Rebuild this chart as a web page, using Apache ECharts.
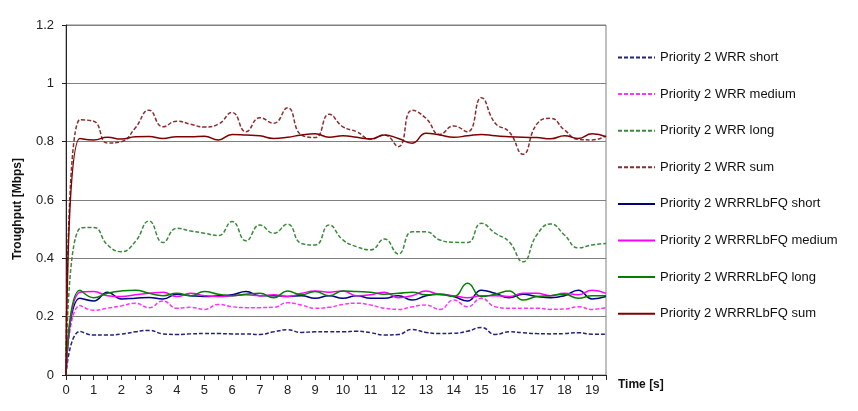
<!DOCTYPE html>
<html>
<head>
<meta charset="utf-8">
<script src="https://cdn.jsdelivr.net/npm/echarts@6/dist/echarts.min.js"></script>
<style>html,body{margin:0;padding:0;background:#fff}#c{width:858px;height:411px}</style>
</head>
<body>
<div id="c"></div>
<script>
// Time categories (s), every 0.5 s
const times = ["0","0.5","1","1.5","2","2.5","3","3.5","4","4.5","5","5.5","6","6.5","7","7.5","8","8.5","9","9.5","10","10.5","11","11.5","12","12.5","13","13.5","14","14.5","15","15.5","16","16.5","17","17.5","18","18.5","19","19.5"];
const yTicks = [0, 0.2, 0.4, 0.6, 0.8, 1, 1.2];

const wrrShort = [0,0.149,0.137,0.137,0.140,0.148,0.153,0.141,0.139,0.141,0.142,0.142,0.141,0.141,0.139,0.148,0.155,0.146,0.148,0.148,0.148,0.150,0.145,0.137,0.139,0.156,0.146,0.142,0.143,0.150,0.163,0.139,0.148,0.145,0.142,0.141,0.142,0.145,0.140,0.140];
const wrrMedium = [0,0.238,0.222,0.229,0.237,0.246,0.231,0.254,0.229,0.232,0.225,0.242,0.234,0.231,0.231,0.232,0.248,0.240,0.229,0.232,0.242,0.246,0.240,0.229,0.225,0.234,0.240,0.225,0.257,0.234,0.263,0.234,0.229,0.229,0.229,0.225,0.226,0.234,0.225,0.231];
const wrrLong = [0,0.503,0.506,0.446,0.423,0.457,0.528,0.454,0.503,0.494,0.486,0.478,0.526,0.460,0.514,0.486,0.517,0.451,0.446,0.514,0.463,0.440,0.429,0.466,0.415,0.491,0.491,0.463,0.455,0.454,0.520,0.486,0.457,0.388,0.480,0.518,0.480,0.436,0.446,0.451];
const wrrSum = [0,0.875,0.870,0.795,0.800,0.847,0.908,0.851,0.870,0.860,0.850,0.860,0.900,0.834,0.882,0.863,0.916,0.823,0.814,0.894,0.851,0.834,0.809,0.823,0.783,0.908,0.880,0.825,0.854,0.834,0.951,0.863,0.834,0.757,0.860,0.880,0.840,0.808,0.806,0.820];
const lbShort = [0,0.263,0.254,0.284,0.261,0.263,0.266,0.261,0.277,0.272,0.269,0.272,0.275,0.286,0.272,0.272,0.269,0.272,0.263,0.272,0.263,0.272,0.263,0.263,0.272,0.257,0.272,0.277,0.269,0.254,0.291,0.280,0.265,0.277,0.269,0.265,0.272,0.291,0.261,0.269];
const lbMedium = [0,0.284,0.286,0.272,0.269,0.275,0.280,0.284,0.269,0.280,0.272,0.269,0.272,0.275,0.272,0.275,0.269,0.280,0.288,0.284,0.288,0.272,0.275,0.284,0.265,0.272,0.288,0.275,0.272,0.265,0.272,0.272,0.269,0.280,0.280,0.272,0.280,0.275,0.291,0.280];
const lbLong = [0,0.291,0.265,0.280,0.288,0.291,0.280,0.272,0.280,0.272,0.286,0.277,0.272,0.277,0.280,0.265,0.288,0.275,0.286,0.272,0.288,0.286,0.284,0.277,0.280,0.284,0.275,0.277,0.269,0.315,0.269,0.277,0.288,0.257,0.269,0.272,0.277,0.263,0.272,0.272];
const lbSum = [0,0.811,0.806,0.815,0.809,0.817,0.818,0.811,0.817,0.817,0.819,0.806,0.825,0.823,0.820,0.811,0.815,0.823,0.827,0.815,0.820,0.815,0.809,0.823,0.811,0.795,0.829,0.823,0.815,0.820,0.825,0.820,0.817,0.815,0.814,0.810,0.820,0.811,0.827,0.817];

const names = ["Priority 2 WRR short","Priority 2 WRR medium","Priority 2 WRR long","Priority 2 WRR sum","Priority 2 WRRRLbFQ short","Priority 2 WRRRLbFQ medium","Priority 2 WRRRLbFQ long","Priority 2 WRRRLbFQ sum"];
const datasets = [wrrShort, wrrMedium, wrrLong, wrrSum, lbShort, lbMedium, lbLong, lbSum];
const colors = ["#23237a","#ff33ff","#3a8a3a","#8b2d2d","#000080","#ff00ff","#008000","#800000"];
const dashed = [true,true,true,true,false,false,false,false];

const chart = echarts.init(document.getElementById('c'), null, {renderer:'canvas'});
const series = names.map((n,i)=>({
  name:n, type:'line', data:datasets[i], smooth:0.5, symbol:'none', showSymbol:false,
  lineStyle:{color:colors[i], width:1.5, type: dashed[i] ? [4,2] : 'solid'},
  itemStyle:{color:colors[i]}, z: dashed[i]?2:3
}));

chart.setOption({
  animation:false,
  backgroundColor:'#fff',
  grid:{left:66, right:252, top:25, bottom:36, show:true, borderColor:'#808080', borderWidth:1},
  legend:{
    orient:'vertical', left:612, top:46, itemWidth:37, itemHeight:14, itemGap:23.6,
    itemStyle:{opacity:0},
    textStyle:{fontFamily:'Liberation Sans, Arial', fontSize:13, color:'#111'},
    data: names
  },
  xAxis:{
    type:'category', data:times, boundaryGap:false,
    name:'Time [s]', nameLocation:'end', nameGap:12,
    nameTextStyle:{fontFamily:'Liberation Sans, Arial', fontWeight:'bold', fontSize:12, color:'#111', verticalAlign:'top', padding:[4,0,0,0]},
    axisLine:{lineStyle:{color:'#222', width:1}},
    axisTick:{show:true, interval:0, length:5, lineStyle:{color:'#222'}},
    axisLabel:{interval:1, fontFamily:'Liberation Sans, Arial', fontSize:13, color:'#222', margin:9},
    splitLine:{show:false}
  },
  yAxis:{
    type:'value', min:yTicks[0], max:yTicks[yTicks.length-1], interval:0.2,
    name:'Troughput [Mbps]', nameLocation:'middle', nameGap:42,
    nameTextStyle:{fontFamily:'Liberation Sans, Arial', fontWeight:'bold', fontSize:12, color:'#111', padding:[0,0,0,-18]},
    axisLine:{show:true, lineStyle:{color:'#222', width:1}},
    axisTick:{show:true, length:4, lineStyle:{color:'#222'}},
    axisLabel:{fontFamily:'Liberation Sans, Arial', fontSize:13, color:'#222', margin:12},
    splitLine:{show:true, lineStyle:{color:'#808080', width:1}}
  },
  series: series
});
</script>
</body>
</html>
